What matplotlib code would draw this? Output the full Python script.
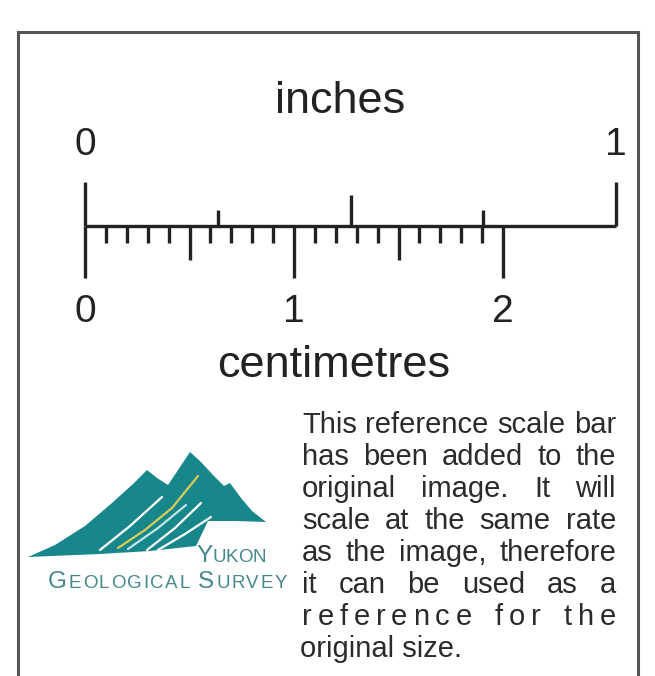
import matplotlib
matplotlib.use('Agg')
import matplotlib.pyplot as plt

plt.rcParams['font.family'] = ['Liberation Sans', 'DejaVu Sans']

# ruler values
inch_ticks = [0, 0.25, 0.5, 0.75, 1]
inch_labels = ['0', '', '', '', '1']
mm_ticks = [0, 1, 2, 3, 4, 5, 6, 7, 8, 9, 10, 11, 12, 13, 14, 15, 16, 17, 18, 19, 20]
cm_labels = [0, 1, 2]

note_lines = [
    "This reference scale bar",
    "has been added to the",
    "original image. It will",
    "scale at the same rate",
    "as the image, therefore",
    "it can be used as a",
    "reference for the",
    "original size.",
]

ink = '#222222'
note_ink = '#2b2b2b'
teal = '#17878b'
logo_text = '#45888f'

fig = plt.figure(figsize=(6.55, 6.76), dpi=100)
ax = fig.add_axes([0, 0, 1, 1])
ax.set_xlim(0, 655)
ax.set_ylim(676, 0)
ax.axis('off')
renderer = fig.canvas.get_renderer()

# frame (open at the bottom)
ax.plot([18, 18, 638, 638], [690, 32, 32, 690], color='#555555', lw=2.2, solid_joinstyle='miter')

# ruler, x in inches, y in pixels above the bar
axr = fig.add_axes([85 / 655, 1 - 280 / 676, 531 / 655, 100 / 676])
axr.set_xlim(0, 1)
axr.set_ylim(-54, 46)
axr.axis('off')
lw = 2.4
axr.hlines(0, 0, 1, color=ink, lw=lw, clip_on=False)
for v, lab in zip(inch_ticks, inch_labels):
    if v in (0, 1):
        h = 44
    elif v == 0.5:
        h = 31
    else:
        h = 16
    axr.vlines(v, 0, h, color=ink, lw=lw, clip_on=False)
    if lab:
        axr.text(v, 71, lab, ha='center', va='baseline', fontsize=28, color=ink)
for mm in mm_ticks:
    if mm % 10 == 0:
        h = 52
    elif mm % 5 == 0:
        h = 34
    else:
        h = 17
    axr.vlines(mm / 25.4, -h, 0, color=ink, lw=lw, clip_on=False)
for c in cm_labels:
    axr.text(c / 2.54, -96, str(c), ha='center', va='baseline', fontsize=28, color=ink)

ax.text(340, 113, 'inches', ha='center', va='baseline', fontsize=32.5, color=ink)
ax.text(334, 377, 'centimetres', ha='center', va='baseline', fontsize=32.5, color=ink)


def width(s, size, weight='normal'):
    t = ax.text(0, 0, s, fontsize=size, fontweight=weight)
    w = t.get_window_extent(renderer).width
    t.remove()
    return w


def spread(pieces, x0, x1, y, color, space=0.28, weight='normal'):
    # pieces: list of (char, size); ' ' marks a word gap
    chars = [p for p in pieces if p[0] != ' ']
    total = sum(width(c, s, weight) for c, s in chars)
    nsp = sum(1 for p in pieces if p[0] == ' ')
    sp = space * pieces[0][1] * 100 / 72
    gaps = len(pieces) - 1 - nsp
    ls = (x1 - x0 - total - nsp * sp) / max(gaps, 1)
    x = x0
    for c, s in pieces:
        if c == ' ':
            x += sp
            continue
        ax.text(x, y, c, fontsize=s, color=color, va='baseline', ha='left', fontweight=weight)
        x += width(c, s, weight) + ls


# note text, justified
size = 21
left, right = 302, 616
for i, line in enumerate(note_lines):
    y = 433 + 32 * i
    if i == len(note_lines) - 1:
        ax.text(left - 2, y, line, fontsize=size, color=note_ink, va='baseline')
    elif i == 6:
        spread([(c, size) for c in line], left, right, y, note_ink, space=0.6)
    else:
        words = line.split()
        ws = [width(w, size) for w in words]
        gap = (right - left - sum(ws)) / (len(words) - 1)
        x = left
        for w, ww in zip(words, ws):
            ax.text(x, y, w, fontsize=size, color=note_ink, va='baseline')
            x += ww + gap

# logo
mountain = [(28, 557), (55, 545), (85, 526), (112, 503), (133, 484), (147, 470),
            (157, 478), (168, 485), (180, 467), (190, 452), (201, 462), (213, 475),
            (224, 486), (230, 483), (241, 498), (252, 511), (266, 522), (236, 521),
            (208, 521), (196, 546), (150, 551), (100, 554)]
ax.fill([p[0] for p in mountain], [p[1] for p in mountain], color=teal, lw=0)
streaks = [
    ([100, 130, 162], [550, 526, 497], 'white'),
    ([118, 145, 172, 198], [548, 530, 508, 476], '#d9cc55'),
    ([147, 175, 201], [550, 528, 503], 'white'),
    ([158, 185, 211], [550, 534, 517], 'white'),
    ([128, 158, 186], [549, 528, 505], '#bfe6e6'),
]
for xs, ys, col in streaks:
    ax.plot(xs, ys, color=col, lw=1.6, solid_capstyle='round')

big, small = 17.5, 13.5
spread([('Y', big), ('U', small), ('K', small), ('O', small), ('N', small)], 196, 266, 562, logo_text, space=0.3)
gs = [('G', big)] + [(c, small) for c in 'EOLOGICAL'] + [(' ', small), ('S', big)] + [(c, small) for c in 'URVEY']
spread(gs, 48, 287, 588, logo_text, space=0.3)

fig.savefig('out.png', dpi=100)
